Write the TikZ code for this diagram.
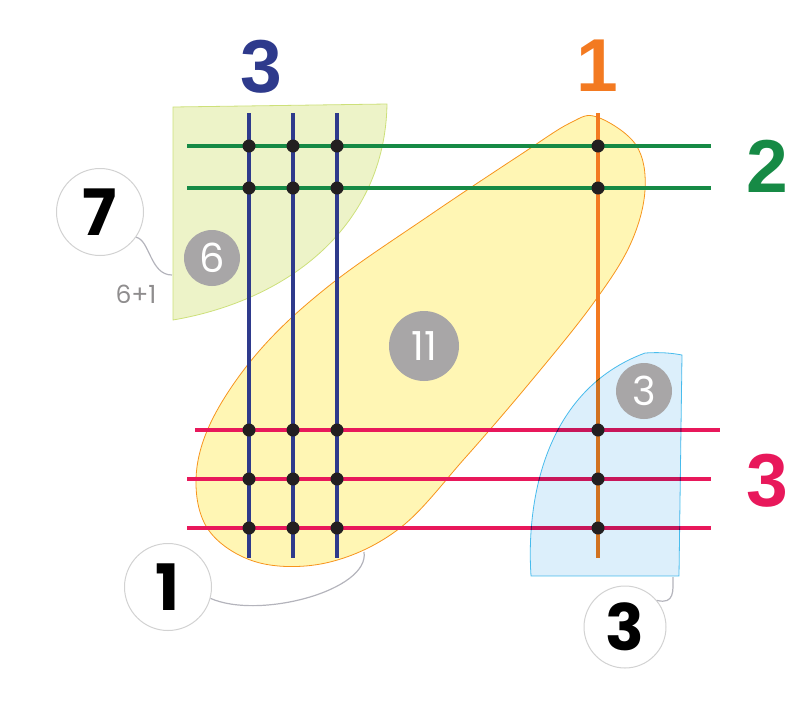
\documentclass[tikz,border=0pt]{standalone}
\usepackage{fontspec}
\setmainfont{Liberation Sans}
\newfontfamily\roundf{Poppins}
\usetikzlibrary{calc}
\definecolor{navy}{HTML}{2E3A8C}
\definecolor{orng}{HTML}{F37A21}
\definecolor{grn}{HTML}{168A45}
\definecolor{mag}{HTML}{E8185B}
\definecolor{dotc}{HTML}{231F20}
\definecolor{gcirc}{HTML}{A8A6A7}
\definecolor{greenfill}{HTML}{EDF3C8}
\definecolor{greenedge}{HTML}{CDE07A}
\definecolor{yelfill}{HTML}{FFF6B4}
\definecolor{yeledge}{HTML}{F7941D}
\definecolor{bluefill}{HTML}{DCEFFB}
\definecolor{blueedge}{HTML}{4EC3EF}
\definecolor{conn}{HTML}{B4B4BC}
\definecolor{wedge}{HTML}{D2D2D2}
\tikzset{
  vline/.style={line width=3.3pt},
  hline/.style={line width=3.3pt},
  dotn/.style={circle,fill=dotc,inner sep=0pt,minimum size=13pt},
  bignum/.style={font=\fontsize{75}{75}\selectfont\bfseries,inner sep=0pt},
  graycirc/.style={circle,fill=gcirc,text=white,inner sep=0pt,font=\roundf\fontsize{40}{40}\selectfont},
  whitecirc/.style={circle,draw=wedge,line width=1pt,fill=white,inner sep=0pt,minimum size=87pt,font=\roundf\bfseries\fontsize{64}{64}\selectfont},
  connline/.style={draw=conn,line width=1.2pt},
}
\begin{document}
\begin{tikzpicture}[x=1pt,y=-1pt]
\useasboundingbox (0,0) rectangle (811,705);
% green region
\draw[fill=greenfill,draw=greenedge,line width=0.8pt] (173,107) -- (387,104)
  .. controls (385,225) and (290,300) .. (173,320) -- cycle;
% yellow blob
\draw[fill=yelfill,draw=yeledge,line width=0.8pt] plot[smooth cycle,tension=0.6] coordinates {
  (597,117) (636,145) (645,190) (630,245) (592,305) (532,380) (465,458) (400,528)
  (330,562) (260,563) (210,532) (196,480) (212,420) (260,350) (330,285) (430,215) (520,155) (570,123)};
% vertical lines
\foreach \x/\n in {249/a,293/b,337/c} {
  \coordinate (t\n) at (\x,113); \coordinate (b\n) at (\x,558);
  \draw[vline,navy] (t\n) -- (b\n);
}
\coordinate (to) at (598,113); \coordinate (bo) at (598,558);
\draw[vline,orng] (to) -- (bo);
% horizontal lines
\foreach \y/\n in {146/g1,188/g2} {
  \coordinate (l\n) at (187,\y); \coordinate (r\n) at (711,\y);
  \draw[hline,grn] (l\n) -- (r\n);
}
\coordinate (lm1) at (195,430); \coordinate (rm1) at (720,430);
\coordinate (lm2) at (187,479); \coordinate (rm2) at (711,479);
\coordinate (lm3) at (187,528); \coordinate (rm3) at (711,528);
\foreach \n in {m1,m2,m3} \draw[hline,mag] (l\n) -- (r\n);
% blue region (multiply over lines)
\begin{scope}[blend mode=multiply]
\draw[fill=bluefill,draw=blueedge,line width=0.8pt] (645,353) .. controls (660,352) and (672,353) .. (682,355)
  -- (679,576) -- (531,576) .. controls (526,500) and (545,390) .. (645,353) -- cycle;
\end{scope}
% dots
\foreach \x/\n in {249/a,293/b,337/c,598/o} {
  \foreach \y/\m in {146/1,188/2,430/3,479/4,528/5} {
    \node[dotn] (d\n\m) at (\x,\y) {};
  }
}
% big labels
\node[bignum,text=navy] (lblue) at (261,67) {3};
\node[bignum,text=orng] (lorange) at (597,66) {1};
\node[bignum,text=grn] (lgreen) at (767,166) {2};
\node[bignum,text=mag] (lmag) at (767,481) {3};
% gray circles
\node[graycirc,minimum size=56pt] (g6) at (212,258) {6};
\node[graycirc,minimum size=70pt] (g11) at (424,346) {11};
\node[graycirc,minimum size=56pt] (g3) at (644,391) {3};
% connectors
\coordinate (c7end) at (172,275);
\coordinate (c1end) at (364,552);
\coordinate (c3end) at (673,577);
\node[whitecirc] (w7) at (100,212) {7};
\node[whitecirc] (w1) at (168,587) {1};
\node[whitecirc,minimum size=82pt] (w3) at (625,627) {3};
\draw[connline] (w7.-35) .. controls (150,240) and (150,275) .. (c7end);
\draw[connline] (w1.-15) .. controls (260,620) and (370,590) .. (c1end);
\draw[connline] (w3.40) .. controls (675,605) and (673,590) .. (c3end);
\node[text=gcirc!85!black,font=\roundf\fontsize{25}{25}\selectfont,inner sep=0pt] (sum) at (136,294) {6+1};
\end{tikzpicture}
\end{document}
